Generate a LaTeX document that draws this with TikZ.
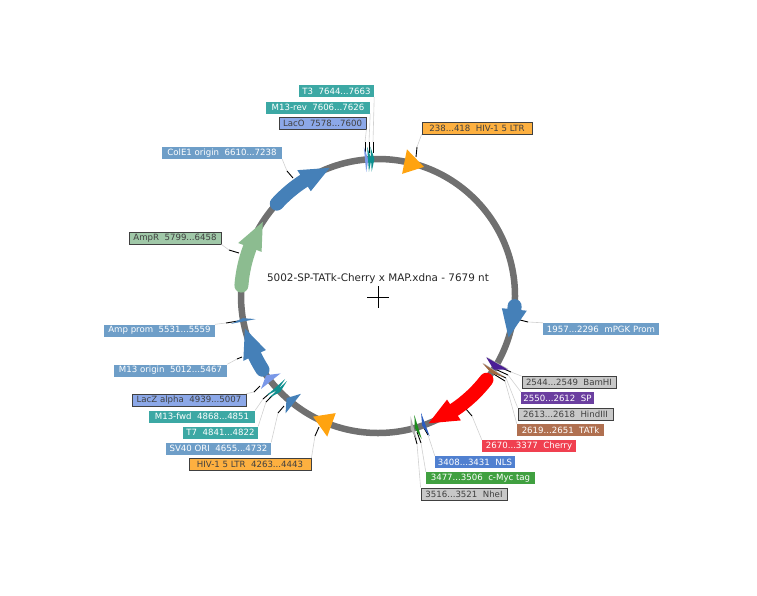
\documentclass[tikz,border=0pt]{standalone}
\usepackage{fontspec}
\setmainfont{DejaVu Sans}

\definecolor{ringgray}{HTML}{707070}
\definecolor{featblue}{HTML}{4580B8}
\definecolor{featgreen}{HTML}{8CBC90}
\definecolor{featorange}{HTML}{FFA30F}
\definecolor{featpurple}{HTML}{4B1E96}
\definecolor{featgray}{HTML}{B0B0B0}
\definecolor{featbrown}{HTML}{A06840}
\definecolor{featnls}{HTML}{2A5CC0}
\definecolor{featmyc}{HTML}{1C8C1C}
\definecolor{featteal}{HTML}{0E9090}
\definecolor{featlac}{HTML}{7A98E8}
\definecolor{tagblue}{HTML}{6E9EC8}
\definecolor{tagteal}{HTML}{3CA8A4}
\definecolor{taglac}{HTML}{8CA8E8}
\definecolor{tagorange}{HTML}{FDB040}
\definecolor{taggreen}{HTML}{A0C8A8}
\definecolor{taggray}{HTML}{C8C8C8}
\definecolor{tagpurple}{HTML}{6B3FA0}
\definecolor{tagbrown}{HTML}{B07050}
\definecolor{tagred}{HTML}{F04050}
\definecolor{tagnls}{HTML}{5080D0}
\definecolor{tagmyc}{HTML}{40A040}

\tikzset{
  tag/.style={font=\fontsize{8.6}{10}\selectfont, text=white, inner sep=0pt, minimum height=12pt},
  boxtag/.style={tag, draw=black!75, line width=0.8pt, text=black!75},
  lead/.style={draw=black!18, line width=0.6pt},
  tick/.style={draw=black, line width=0.9pt}
}

% arrow feature: start, end, colour
\newcommand{\featarrow}[3]{
  \pgfmathsetmacro{\angstart}{#1/7679*360-90+2.5}
  \pgfmathsetmacro{\angend}{#2/7679*360-90}
  \pgfmathsetmacro{\angbase}{\angend-12}
  \draw[#3, line width=14pt, line cap=round] (\angstart:137) arc[start angle=\angstart, end angle=\angbase, radius=137];
  \fill[#3] (\angbase:124.5) -- (\angbase:149.5) -- (\angend:137) -- cycle;
}
% head only feature, never thinner than 1.4 degrees
\newcommand{\feathead}[3]{
  \pgfmathsetmacro{\angstart}{#1/7679*360-90}
  \pgfmathsetmacro{\angend}{\angstart+ifthenelse(#2<#1,-1,1)*max(abs(#2-#1)/7679*360,1.4)}
  \fill[#3] (\angstart:124.5) -- (\angstart:149.5) -- (\angend:137) -- cycle;
}
% label to feature: label anchor, name, tick start, tick end
\newcommand{\leader}[4]{
  \coordinate (#2a) at (#3);
  \coordinate (#2b) at (#4);
  \draw[lead] (#1) -- (#2b);
  \draw[tick] (#2b) -- (#2a);
}

\begin{document}
\begin{tikzpicture}[x=1pt, y=-1pt]
  \useasboundingbox (0,0) rectangle (757,595);

  % labels
  \node[tag, fill=tagteal, minimum width=75pt] (tthree) at (336.5,91) {T3\ \ 7644...7663};
  \node[tag, fill=tagteal, minimum width=104pt] (mrev) at (318,107.5) {M13-rev\ \ 7606...7626};
  \node[boxtag, fill=taglac, minimum width=87pt] (laco) at (322.5,123) {LacO\ \ 7578...7600};
  \node[boxtag, fill=tagorange, minimum width=110pt] (hivone) at (477,128) {238...418\ \ HIV-1 5 LTR};
  \node[tag, fill=tagblue, minimum width=120pt] (cole) at (222,153) {ColE1 origin\ \ 6610...7238};
  \node[boxtag, fill=taggreen, minimum width=92pt] (ampr) at (175,238) {AmpR\ \ 5799...6458};
  \node[tag, fill=tagblue, minimum width=111pt] (ampprom) at (159.5,330.5) {Amp prom\ \ 5531...5559};
  \node[tag, fill=tagblue, minimum width=113pt] (morigin) at (170.5,370.5) {M13 origin\ \ 5012...5467};
  \node[boxtag, fill=taglac, minimum width=114pt] (lacz) at (189,400) {LacZ alpha\ \ 4939...5007};
  \node[tag, fill=tagteal, minimum width=106pt] (mfwd) at (202,416.5) {M13-fwd\ \ 4868...4851};
  \node[tag, fill=tagteal, minimum width=75pt] (tseven) at (220.5,432.5) {T7\ \ 4841...4822};
  \node[tag, fill=tagblue, minimum width=105pt] (sv) at (218.5,448.5) {SV40 ORI\ \ 4655...4732};
  \node[boxtag, fill=tagorange, minimum width=122pt] (hivtwo) at (250,464.5) {HIV-1 5 LTR\ \ 4263...4443};
  \node[tag, fill=tagblue, minimum width=116pt] (pgk) at (601,329) {1957...2296\ \ mPGK Prom};
  \node[boxtag, fill=taggray, minimum width=94pt] (bam) at (569,382.5) {2544...2549\ \ BamHI};
  \node[tag, fill=tagpurple, minimum width=73pt] (sp) at (557.5,398) {2550...2612\ \ SP};
  \node[boxtag, fill=taggray, minimum width=95pt] (hind) at (565.5,414) {2613...2618\ \ HindIII};
  \node[tag, fill=tagbrown, minimum width=87pt] (tatk) at (560.5,430) {2619...2651\ \ TATk};
  \node[tag, fill=tagred, minimum width=94pt] (cherry) at (529,446) {2670...3377\ \ Cherry};
  \node[tag, fill=tagnls, minimum width=80pt] (nls) at (475,462) {3408...3431\ \ NLS};
  \node[tag, fill=tagmyc, minimum width=109pt] (myc) at (480.5,478) {3477...3506\ \ c-Myc tag};
  \node[boxtag, fill=taggray, minimum width=86pt] (nhe) at (464,494) {3516...3521\ \ NheI};

  % title and cross
  \node[font=\fontsize{10.4}{12}\selectfont, text=black!85] (title) at (378,279) {5002-SP-TATk-Cherry x MAP.xdna - 7679 nt};
  \coordinate (crossw) at (367,297);
  \coordinate (crosse) at (389,297);
  \coordinate (crossn) at (378,286);
  \coordinate (crosss) at (378,308);
  \draw[line width=0.7pt] (crossw) -- (crosse) (crossn) -- (crosss);

  % leaders
  \leader{tthree.south east}{tthree}{373,153}{373,142}
  \leader{mrev.south east}{mrev}{369,153}{369,142}
  \leader{laco.south east}{laco}{365,153}{365,142}
  \leader{hivone.south west}{hivone}{416,157}{417,147}
  \leader{cole.south east}{cole}{293,178}{287,171}
  \leader{ampr.south east}{ampr}{239,253}{229,250}
  \leader{ampprom.north east}{ampprom}{238,321}{226,323}
  \leader{morigin.north east}{morigin}{242,357}{237,359}
  \leader{lacz.north east}{lacz}{260,386}{254,392}
  \leader{mfwd.north east}{mfwd}{270,393}{263,399}
  \leader{tseven.north east}{tseven}{273,395}{266,402}
  \leader{sv.north east}{sv}{284,406}{278,413}
  \leader{hivtwo.north east}{hivtwo}{319,427}{315,436}
  \leader{pgk.north west}{pgk}{520,320}{528,322}
  \leader{bam.north west}{bam}{497,366}{511,372}
  \leader{sp.north west}{sp}{495,369}{508,375}
  \leader{hind.north west}{hind}{493,372}{506,378}
  \leader{tatk.north west}{tatk}{492,373}{505,381}
  \leader{cherry.north west}{cherry}{466,409}{472,416}
  \leader{nls.north west}{nls}{424,428}{428,435}
  \leader{myc.north west}{myc}{417,432}{421,443}
  \leader{nhe.north west}{nhe}{414,433}{417,444}

  \begin{scope}[shift={(378,296)}]
    % backbone
    \node[circle, draw=ringgray, line width=6.5pt, minimum size=274pt, inner sep=0pt] (ring) at (0,0) {};

    % features
    \feathead{238}{418}{featorange}
    \featarrow{1957}{2296}{featblue}
    \feathead{2544}{2549}{featgray}
    \feathead{2550}{2612}{featpurple}
    \feathead{2613}{2618}{featgray}
    \feathead{2619}{2651}{featbrown}
    \featarrow{2670}{3377}{red}
    \feathead{3408}{3431}{featnls}
    \feathead{3477}{3506}{featmyc}
    \feathead{3516}{3521}{featgray}
    \feathead{4263}{4443}{featorange}
    \feathead{4655}{4732}{featblue}
    \feathead{4841}{4822}{featteal}
    \feathead{4868}{4851}{featteal}
    \feathead{4939}{5007}{featlac}
    \featarrow{5012}{5467}{featblue}
    \feathead{5531}{5559}{featblue}
    \featarrow{5799}{6458}{featgreen}
    \featarrow{6610}{7238}{featblue}
    \feathead{7563}{7585}{featlac}
    \feathead{7590}{7610}{featteal}
    \feathead{7617}{7636}{featteal}
  \end{scope}
\end{tikzpicture}
\end{document}
